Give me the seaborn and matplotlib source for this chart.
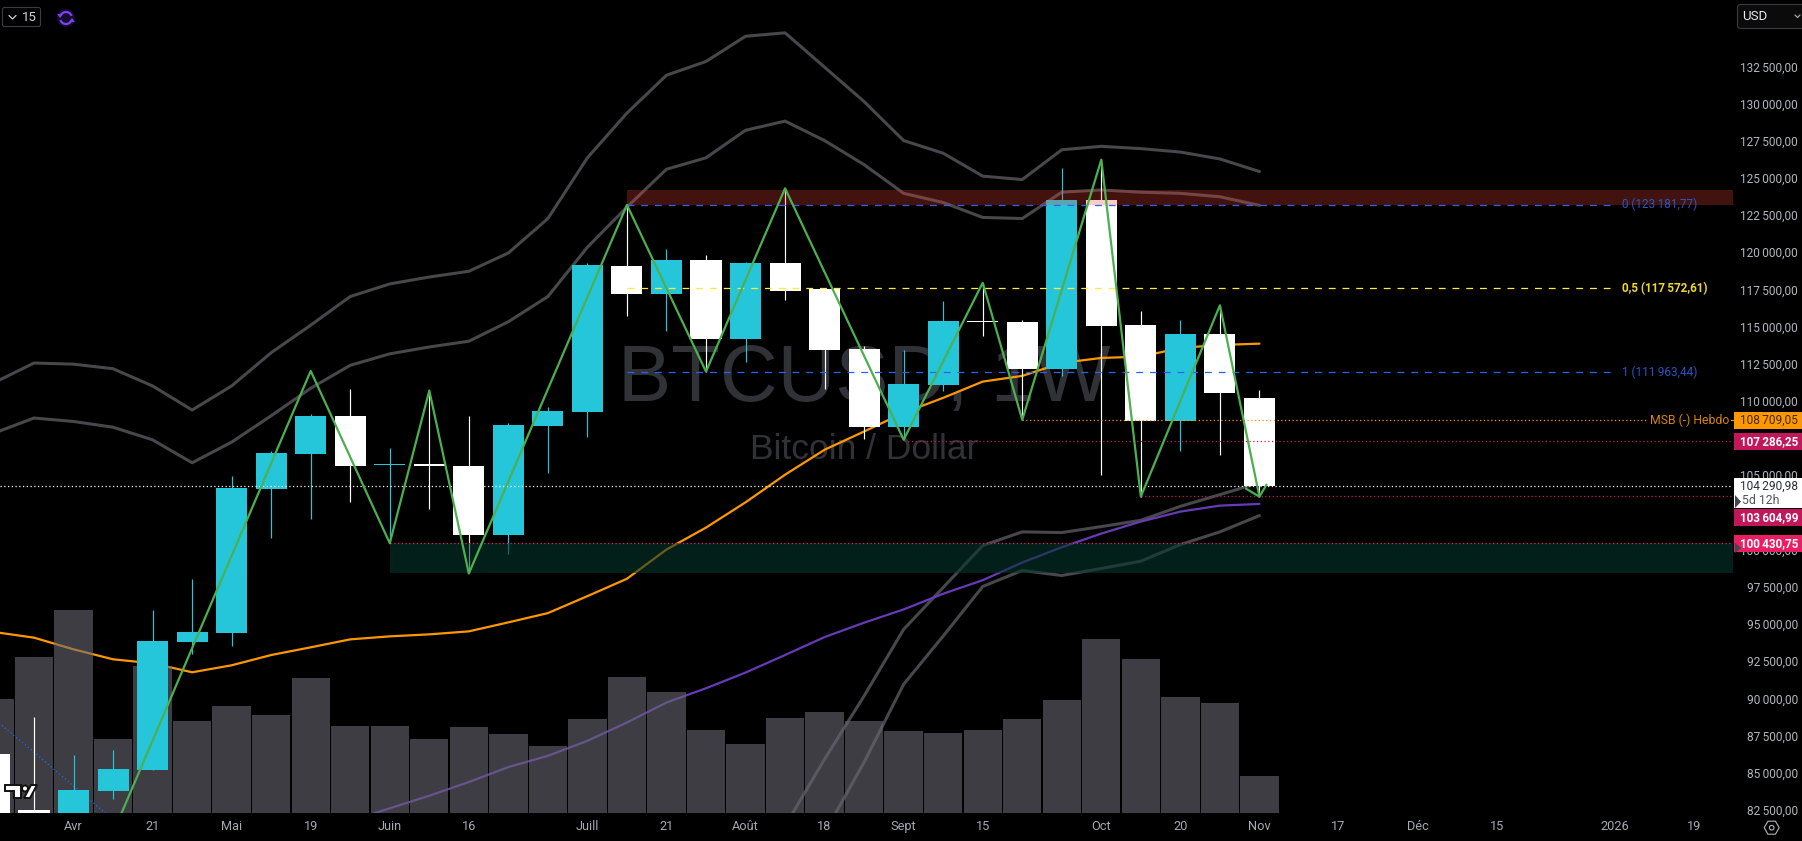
import matplotlib
matplotlib.use("Agg")
import matplotlib.pyplot as plt
from matplotlib.patches import Rectangle, FancyBboxPatch, Circle, Polygon, Arc
import seaborn as sns
import pandas as pd
import numpy as np

# weekly candles, week 0 = first week of avril
weeks = list(range(-2, 31))
opens = [86247, 82489, 81500, 83764, 85174, 93764, 94368, 104099, 106447, 108998, 105700, 105780, 105642,
         101012, 108327, 109232, 119064, 117185, 119467, 114165, 119265, 117500, 113494, 108259, 111078,
         115373, 115306, 112152, 123493, 115105, 108682, 114501, 110206]
highs = [86400, 88730, 86183, 86515, 95911, 97992, 104971, 106650, 109100, 110776, 106850, 110655, 108997,
         108530, 109600, 119300, 123158, 120205, 119802, 119332, 124299, 117590, 113695, 113427, 116715,
         117943, 115440, 125641, 126178, 116044, 115440, 116427, 110742]
lows = [80000, 80000, 81000, 83228, 85174, 92979, 93495, 100810, 102085, 103179, 100475, 102756, 98394,
        99736, 105172, 107541, 115729, 114702, 111970, 112642, 116782, 110830, 107454, 107387, 110675,
        114366, 108730, 111682, 105038, 103562, 106602, 106380, 103604]
closes = [80000, 82300, 83831, 85241, 93830, 94435, 104166, 106515, 108998, 105642, 105776, 105600, 101012,
          108394, 109333, 119116, 117185, 119467, 114165, 119265, 117386, 113427, 108259, 111145, 115373,
          115300, 112152, 123493, 115037, 108682, 114501, 110541, 104253]
volumes = [114, 156, 203, 74, 147, 92, 107, 98, 135, 87, 87, 74, 86, 79, 67, 94, 136, 121, 83, 69, 95, 101,
           92, 82, 80, 83, 94, 113, 174, 154, 116, 110, 37]

band_outer = [111238, 112549, 112471, 112163, 111007, 109387, 111007, 113242, 115093, 117020, 117868, 118331,
              118717, 119950, 122263, 126349, 129356, 131901, 132826, 134522, 134753, 132440, 130127, 127506,
              126658, 125116, 124885, 126889, 127120, 126966, 126735, 126272, 125424]
band_inner = [107845, 108848, 108616, 108231, 107383, 105841, 107229, 109002, 110852, 112394, 113165, 113628,
              114013, 115324, 117020, 120336, 123034, 125578, 126349, 128200, 128817, 127506, 125887, 123959,
              123343, 122340, 122263, 124036, 124191, 124036, 123959, 123728, 123150]
low_weeks_a = list(range(18, 31))
band_low_a = [81415, 85912, 90160, 94636, 97455, 100273, 101193, 101146, 101548, 101971, 102911, 103696, 104501]
low_weeks_b = list(range(19, 31))
band_low_b = [80946, 85710, 90945, 94186, 97522, 98596, 98260, 98730, 99220, 100340, 101193, 102287]
ema_orange = [94455, 94079, 93294, 92623, 92354, 91750, 92220, 92911, 93428, 93965, 94166, 94300, 94502, 95106,
              95730, 96871, 98039, 100005, 101481, 103179, 105038, 106716, 107944, 109199, 110206, 111299,
              111682, 112554, 112890, 112977, 113561, 113762, 113850]
purple_weeks = list(range(7, 31))
ema_purple = [81751, 82603, 83449, 84368, 85375, 86133, 87140, 88375, 89717, 90676, 91730, 92911, 94119, 95086,
              95978, 97032, 97944, 99132, 100159, 101079, 101884, 102555, 102958, 103072]
blue_weeks = [-2, -1, 0, 1]
blue_dotted = [88596, 86380, 84100, 81840]

zig_weeks = [1, 6, 8, 9, 10, 14, 16, 18, 21, 23, 24, 26, 27, 29, 30]
zig_prices = [80945, 112017, 100430, 110697, 98394, 123181, 111970, 124299, 107387, 117943, 108730, 126225,
              103562, 116427, 103562]
arrow_weeks = [29.66, 30, 30.18]
arrow_prices = [104099, 103562, 104367]

price_ticks = list(range(82500, 132501, 2500))
date_weeks = [0, 2, 4, 6, 8, 10, 13, 15, 17, 19, 21, 23, 26, 28, 30, 32, 34, 36, 39, 41]
date_labels = ["Avr", "21", "Mai", "19", "Juin", "16", "Juill", "21", "Août", "18", "Sept", "15", "Oct", "20",
               "Nov", "17", "Déc", "15", "2026", "19"]

xmin, xmax = -1.86, 41.98
ymin, ymax = 82307, 136961

sns.set_theme(style="dark")
plt.rcParams['font.family'] = ['Roboto', 'DejaVu Sans']

fig = plt.figure(figsize=(18.02, 8.41), dpi=100, facecolor="black")
rect = [0, 28.3 / 841, 1733 / 1802, 812.7 / 841]

# background in pixels, for the watermark
ax_back = fig.add_axes([0, 0, 1, 1], zorder=0)
ax_back.set_xlim(0, 1802)
ax_back.set_ylim(841, 0)
ax_back.axis("off")
ax_back.text(864, 380, "BTCUSD, 1W", color="#303238", fontsize=57.5, family="Liberation Sans", ha="center", va="center")
ax_back.text(864, 449, "Bitcoin / Dollar", color="#303238", fontsize=25.5, family="Liberation Sans", ha="center", va="center")

# three layers: lines under the volume, volume under the candles
ax_lines = fig.add_axes(rect, zorder=1)
ax_vol = fig.add_axes(rect, zorder=2)
ax = fig.add_axes(rect, zorder=3)

band_color = "#47474c"
sns.lineplot(x=weeks, y=band_outer, color=band_color, linewidth=2.2, ax=ax_lines, estimator=None)
sns.lineplot(x=weeks, y=band_inner, color=band_color, linewidth=2.2, ax=ax_lines, estimator=None)
sns.lineplot(x=low_weeks_a, y=band_low_a, color=band_color, linewidth=2.2, ax=ax_lines, estimator=None)
sns.lineplot(x=low_weeks_b, y=band_low_b, color=band_color, linewidth=2.2, ax=ax_lines, estimator=None)
sns.lineplot(x=weeks, y=ema_orange, color="#ff9800", linewidth=1.6, ax=ax_lines, estimator=None)
sns.lineplot(x=purple_weeks, y=ema_purple, color="#673ab7", linewidth=1.6, ax=ax_lines, estimator=None)

df_vol = pd.DataFrame({"week": weeks, "volume": volumes})
sns.barplot(data=df_vol, x="week", y="volume", native_scale=True, width=0.97, color="#666770", alpha=0.6,
            saturation=1, ax=ax_vol, errorbar=None, linewidth=0, edgecolor="none")
ax_vol.set_ylim(0, 812.7)

# candles
df = pd.DataFrame({"week": weeks, "open": opens, "high": highs, "low": lows, "close": closes})
df["color"] = np.where(df["close"] >= df["open"], "#26c6da", "#ffffff")
sns.lineplot(x=blue_weeks, y=blue_dotted, color="#2962ff", linewidth=0.9, linestyle=(0, (1, 2)), ax=ax, estimator=None, zorder=2)
ax.vlines(df["week"], df["low"], df["high"], colors=df["color"], linewidth=0.85, zorder=3)
ax.bar(df["week"], (df["close"] - df["open"]).abs(), bottom=df[["open", "close"]].min(axis=1), width=0.785,
       color=df["color"], linewidth=0, zorder=3.1)

# zones
ax.add_patch(Rectangle((14, 123181), xmax - 14, 983, facecolor="#f44336", alpha=0.27, linewidth=0, zorder=4))
ax.add_patch(Rectangle((8, 98417), xmax - 8, 2013, facecolor="#05352d", alpha=0.6, linewidth=0, zorder=4))

# horizontal levels
ax.plot([14, 38.87], [123181.77, 123181.77], color="#2962ff", linewidth=0.9, linestyle=(0, (5.5, 5.5)), zorder=5)
ax.plot([14, 38.87], [117572.61, 117572.61], color="#ffeb3b", linewidth=0.9, linestyle=(0, (5.5, 5.5)), zorder=5)
ax.plot([14, 38.87], [111963.44, 111963.44], color="#2962ff", linewidth=0.9, linestyle=(0, (5.5, 5.5)), zorder=5)
ax.plot([24, 39.78], [108709.05, 108709.05], color="#ff9800", linewidth=0.9, linestyle=(0, (1, 2)), zorder=5)
ax.plot([21, xmax], [107286.25, 107286.25], color="#c2185b", linewidth=0.9, linestyle=(0, (1, 2)), zorder=5)
ax.plot([xmin, xmax], [104290.98, 104290.98], color="#ffffff", linewidth=0.9, linestyle=(0, (1, 2)), zorder=5)
ax.plot([27, xmax], [103604.99, 103604.99], color="#c2185b", linewidth=0.9, linestyle=(0, (1, 2)), zorder=5)
ax.plot([8, xmax], [100430.75, 100430.75], color="#e91e63", linewidth=0.9, linestyle=(0, (1, 2)), zorder=5)

# zigzag on top
sns.lineplot(x=zig_weeks, y=zig_prices, color="#4caf50", linewidth=1.6, ax=ax, estimator=None, zorder=6)
ax.plot(arrow_weeks, arrow_prices, color="#4caf50", linewidth=1.6, zorder=6)

for a in [ax_lines, ax_vol, ax]:
    a.set_xlim(xmin, xmax)
    a.patch.set_alpha(0)
    a.set_xlabel("")
    a.set_ylabel("")
    a.grid(False)
    for s in a.spines.values():
        s.set_visible(False)
for a in [ax_lines, ax]:
    a.set_ylim(ymin, ymax)
for a in [ax_lines, ax_vol]:
    a.set_xticks([])
    a.set_yticks([])

ax.yaxis.tick_right()
ax.set_yticks(price_ticks)
ax.set_yticklabels([f"{v // 1000}\u2009{v % 1000:03d},00" for v in price_ticks], ha="right")
ax.tick_params(axis="y", length=0, pad=46.8, labelsize=8.6, labelcolor="#b2b5be")
ax.set_xticks(date_weeks)
ax.set_xticklabels(date_labels)
ax.tick_params(axis="x", length=0, pad=5.5, labelsize=9.2, labelcolor="#a6a9b2")

# right hand labels, chrome, in pixels
top = fig.add_axes([0, 0, 1, 1], zorder=10)
top.set_xlim(0, 1802)
top.set_ylim(841, 0)
top.axis("off")

top.text(1622, 204.5, "0 (123\u2009181,77)", color="#2b55c5", fontsize=8.5, va="center")
top.text(1622, 288.5, "0,5 (117\u2009572,61)", color="#f0d92c", fontsize=8.4, fontweight="bold", va="center")
top.text(1622, 372, "1 (111\u2009963,44)", color="#2b55c5", fontsize=8.5, va="center")
top.text(1650, 420, "MSB (-) Hebdo", color="#d98500", fontsize=8.8, va="center")
top.plot([1731, 1733], [420.3, 420.3], color="#ff9800", linewidth=0.9)

tag_x, tag_w = 1734, 68
top.add_patch(Rectangle((tag_x, 411.7), tag_w, 17.3, facecolor="#ff9800", linewidth=0))
top.text(1798, 420.3, "108\u2009709,05", color="#3a2a08", fontsize=8.6, ha="right", va="center")
top.add_patch(Rectangle((tag_x, 433), tag_w, 17, facecolor="#c2185b", linewidth=0))
top.text(1798, 441.5, "107\u2009286,25", color="white", fontsize=8.4, fontweight="bold", ha="right", va="center")
top.add_patch(Rectangle((tag_x, 478), tag_w, 30, facecolor="white", linewidth=0))
top.text(1798, 486, "104\u2009290,98", color="#2a2e39", fontsize=8.6, ha="right", va="center")
top.text(1742, 500, "5d 12h", color="#50535e", fontsize=8.8, ha="left", va="center")
top.add_patch(Rectangle((tag_x, 509), tag_w, 17, facecolor="#c2185b", linewidth=0))
top.text(1798, 517.5, "103\u2009604,99", color="white", fontsize=8.4, fontweight="bold", ha="right", va="center")
top.add_patch(Rectangle((tag_x, 535), tag_w, 17.3, facecolor="#e91e63", linewidth=0))
top.text(1798, 543.7, "100\u2009430,75", color="white", fontsize=8.4, fontweight="bold", ha="right", va="center")
top.add_patch(Polygon([(1735, 495), (1741, 501.7), (1735, 508)], facecolor="#434651", linewidth=0))
top.add_patch(Polygon([(1735, 543), (1741, 548), (1735, 553)], facecolor="#434651", linewidth=0))

# box with the 15
top.add_patch(FancyBboxPatch((4, 9), 35, 16, boxstyle="round,pad=1.5,rounding_size=2", facecolor="black", edgecolor="#3a3c42", linewidth=0.8))
top.plot([9, 12.5, 16], [15.5, 19, 15.5], color="#d1d4dc", linewidth=0.9)
top.text(29, 17.5, "15", color="#d1d4dc", fontsize=9.5, ha="center", va="center")

# sync icon
top.add_patch(Circle((66, 18), 9, facecolor="#150c2c", linewidth=0))
top.add_patch(Arc((66, 18), 12, 12, theta1=200, theta2=340, color="#7e3ff2", linewidth=1.6))
top.add_patch(Arc((66, 18), 12, 12, theta1=20, theta2=160, color="#7e3ff2", linewidth=1.6))
top.add_patch(Polygon([(57, 14), (63, 14), (60, 18)], facecolor="#7e3ff2", linewidth=0))
top.add_patch(Polygon([(69, 22), (75, 22), (72, 18)], facecolor="#7e3ff2", linewidth=0))

# USD box
top.add_patch(FancyBboxPatch((1739, 6), 70, 21, boxstyle="round,pad=1.5,rounding_size=3", facecolor="#0b0b0c", edgecolor="#3a3c42", linewidth=0.8))
top.text(1742, 16.5, "USD", color="#e8ecf4", fontsize=9.5, va="center")
top.plot([1795, 1797.5, 1800], [15, 17.5, 15], color="#a0a3ab", linewidth=0.9)

# settings icon
hex_angles = np.deg2rad(np.arange(0, 360, 60))
top.add_patch(Polygon(np.c_[1771.7 + 7.5 * np.cos(hex_angles), 827.7 + 7.5 * np.sin(hex_angles)], closed=True, facecolor="none", edgecolor="#b2b5be", linewidth=0.8))
top.add_patch(Circle((1771.7, 827.7), 2.3, facecolor="none", edgecolor="#b2b5be", linewidth=0.8))

# tradingview logo
logo = dict(facecolor="white", edgecolor="#111111", linewidth=1.4)
top.add_patch(Polygon([(5, 785), (21, 785), (21, 798), (14, 798), (14, 791), (5, 791)], **logo))
top.add_patch(Circle((25, 788.5), 3, **logo))
top.add_patch(Polygon([(31, 785), (37, 785), (30, 798), (24, 798)], **logo))

plt.savefig("out.png", dpi=100, facecolor="black")
